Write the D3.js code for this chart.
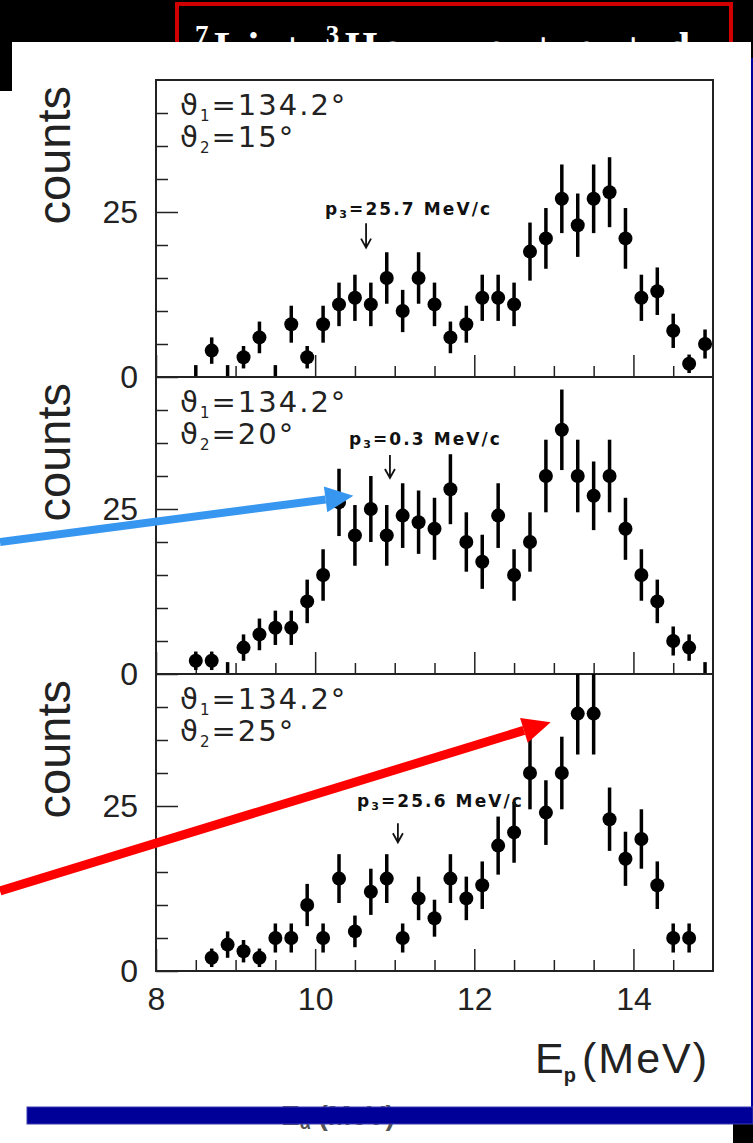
<!DOCTYPE html>
<html>
<head>
<meta charset="utf-8">
<script src="https://cdn.jsdelivr.net/npm/d3@7"></script>
<style>
  html, body { margin: 0; padding: 0; background: #fff; }
  svg { display: block; }
  .frame { fill: none; stroke: #222; stroke-width: 2; }
  .axis path { display: none; }
  .axis line { stroke: #222; stroke-width: 1.5; }
  .axis text { font-family: "Liberation Sans", Arial, sans-serif; font-size: 32px; fill: #222; }
  .ylab { font-family: "Liberation Sans", Arial, sans-serif; font-size: 47px; fill: #222; }
  .theta { font-family: "DejaVu Sans", sans-serif; font-size: 29px; fill: #222; letter-spacing: 2px; }
  .mom { font-family: "DejaVu Sans", sans-serif; font-size: 17px; font-weight: bold; fill: #111; }
</style>
</head>
<body>
<div id="chart"></div>
<script>
// proton energy bins (MeV), 0.2 MeV wide
var ENERGY = [8.5, 8.7, 8.9, 9.1, 9.3, 9.5, 9.7, 9.9, 10.1, 10.3, 10.5, 10.7, 10.9, 11.1, 11.3, 11.5,
              11.7, 11.9, 12.1, 12.3, 12.5, 12.7, 12.9, 13.1, 13.3, 13.5, 13.7, 13.9, 14.1, 14.3, 14.5, 14.7, 14.9];

// theta2 = 15 deg
var COUNTS_15 = [0, 4, 0, 3, 6, 0, 8, 3, 8, 11, 12, 11, 15, 10, 15, 11, 6, 8, 12, 12, 11, 19, 21, 27, 23, 27, 28, 21, 12, 13, 7, 2, 5];
var ERR_15 = [1.8, 2, 1.8, 1.7, 2.4, 1.8, 2.8, 1.7, 2.8, 3.3, 3.5, 3.3, 3.9, 3.2, 3.9, 3.3, 2.4, 2.8, 3.5, 3.5, 3.3, 4.4, 4.6, 5.2, 4.8, 5.2, 5.3, 4.6, 3.5, 3.6, 2.6, 1.4, 2.2];

// theta2 = 20 deg
var COUNTS_20 = [2, 2, 0, 4, 6, 7, 7, 11, 15, 26, 21, 25, 21, 24, 23, 22, 28, 20, 17, 24, 15, 20, 30, 37, 30, 27, 30, 22, 15, 11, 5, 4, 0];
var ERR_20 = [1.4, 1.4, 1.8, 2, 2.4, 2.6, 2.6, 3.3, 3.9, 5.1, 4.6, 5, 4.6, 4.9, 4.8, 4.7, 5.3, 4.5, 4.1, 4.9, 3.9, 4.5, 5.5, 6.1, 5.5, 5.2, 5.5, 4.7, 3.9, 3.3, 2.2, 2, 1.8];

// theta2 = 25 deg
var COUNTS_25 = [null, 2, 4, 3, 2, 5, 5, 10, 5, 14, 6, 12, 14, 5, 11, 8, 14, 11, 13, 19, 21, 30, 24, 30, 39, 39, 23, 17, 20, 13, 5, 5, null];
var ERR_25 = [null, 1.4, 2, 1.7, 1.4, 2.2, 2.2, 3.2, 2.2, 3.7, 2.4, 3.5, 3.7, 2.2, 3.3, 2.8, 3.7, 3.3, 3.6, 4.4, 4.6, 5.5, 4.9, 5.5, 6.2, 6.2, 4.8, 4.1, 4.5, 3.6, 2.2, 2.2, null];

var THETA1 = ["134.2°", "134.2°", "134.2°"];
var THETA2 = ["15°", "20°", "25°"];

// spectator momentum marks: label, energy of arrow, label / arrow heights in counts
var P3_LABEL = ["25.7", "0.3", "25.6"];
var P3_ENERGY = [10.64, 10.94, 11.04];
var P3_TEXT_Y = [24.5, 34.7, 24.8];
var P3_ARROW_TOP = [23.3, 33.2, 22.4];
var P3_ARROW_BOT = [19.6, 29.7, 19.5];

var X_MAJOR = [8, 10, 12, 14];
var X_MINOR = [8.5, 9, 9.5, 10.5, 11, 11.5, 12.5, 13, 13.5, 14.5];
var Y_MAJOR = [0, 25];
var Y_MINOR = [5, 10, 15, 20, 30, 35, 40];

var W = 753, H = 1143;
var PLOT = { left: 156, right: 713, top: 80, panelH: 297 };

var svg = d3.select("#chart").append("svg")
    .attr("width", W)
    .attr("height", H);

// ---- slide background bits ----
svg.append("rect").attr("x", 0).attr("y", 0).attr("width", W).attr("height", 42).attr("fill", "#000");
svg.append("rect").attr("x", 0).attr("y", 0).attr("width", 12).attr("height", 91).attr("fill", "#000");
svg.append("rect").attr("x", 751).attr("y", 42).attr("width", 2).attr("height", 16).attr("fill", "#000");
svg.append("rect").attr("x", 751).attr("y", 58).attr("width", 2).attr("height", 1050).attr("fill", "#00009a");
svg.append("rect").attr("x", 177).attr("y", 4).attr("width", 554).attr("height", 70)
    .attr("fill", "none").attr("stroke", "#d00000").attr("stroke-width", 4);

var title = svg.append("text")
    .attr("x", 195).attr("y", 61)
    .attr("fill", "#fff")
    .attr("textLength", 495)
    .attr("lengthAdjust", "spacing")
    .style("font-family", "'Liberation Serif', 'Times New Roman', serif")
    .style("font-weight", "bold")
    .style("font-size", "42px");
title.append("tspan").attr("font-size", "27px").attr("dy", -17).text("7");
title.append("tspan").attr("dy", 17).text("Li + ");
title.append("tspan").attr("font-size", "27px").attr("dy", -17).text("3");
title.append("tspan").attr("dy", 17).text("He \u2192 \u03b1 + \u03b1 + d");

svg.append("rect").attr("x", 12).attr("y", 42).attr("width", 739).attr("height", 1065).attr("fill", "#fff");

// ghost label peeking out under the bottom bar
var ghost = svg.append("text")
    .attr("x", 281).attr("y", 1125)
    .attr("fill", "#555")
    .style("font-family", "'Liberation Sans', Arial, sans-serif")
    .style("font-weight", "bold")
    .style("font-size", "28px");
ghost.append("tspan").text("E");
ghost.append("tspan").attr("font-size", "18px").attr("dy", 4).text("\u03b1");
ghost.append("tspan").attr("dy", -4).text(" (MeV)");

svg.append("rect").attr("x", 733).attr("y", 1118).attr("width", 20).attr("height", 25).attr("fill", "#000");
svg.append("rect").attr("x", 27).attr("y", 1107).attr("width", 726).attr("height", 17)
    .attr("fill", "#000099").attr("stroke", "#3a3ab0").attr("stroke-width", 1);

// ---- panels ----
var x = d3.scaleLinear().domain([8, 15]).range([PLOT.left, PLOT.right]);

var panels = [
    { counts: COUNTS_15, err: ERR_15 },
    { counts: COUNTS_20, err: ERR_20 },
    { counts: COUNTS_25, err: ERR_25 }
];

var yScales = [];

panels.forEach(function (p, i) {
    var top = PLOT.top + i * PLOT.panelH,
        bottom = top + PLOT.panelH;

    var y = d3.scaleLinear().domain([0, 45]).range([bottom, top]);
    yScales.push(y);

    var g = svg.append("g").attr("class", "panel");

    g.append("clipPath").attr("id", "clip" + i)
      .append("rect")
        .attr("x", PLOT.left).attr("y", top)
        .attr("width", PLOT.right - PLOT.left).attr("height", PLOT.panelH);

    // x ticks, pointing inward
    g.append("g").attr("class", "axis")
        .attr("transform", "translate(0," + bottom + ")")
        .call(d3.axisBottom(x).tickValues(X_MINOR).tickSize(-11).tickFormat(""));
    g.append("g").attr("class", "axis")
        .attr("transform", "translate(0," + bottom + ")")
        .call(d3.axisBottom(x).tickValues(X_MAJOR).tickSize(-22).tickFormat(""));

    // y ticks
    g.append("g").attr("class", "axis")
        .attr("transform", "translate(" + PLOT.left + ",0)")
        .call(d3.axisLeft(y).tickValues(Y_MINOR).tickSize(-12).tickFormat(""));
    g.append("g").attr("class", "axis")
        .attr("transform", "translate(" + PLOT.left + ",0)")
        .call(d3.axisLeft(y).tickValues(Y_MAJOR).tickSize(-22).tickPadding(18).tickFormat(d3.format("d")));

    g.append("rect").attr("class", "frame")
        .attr("x", PLOT.left).attr("y", top)
        .attr("width", PLOT.right - PLOT.left).attr("height", PLOT.panelH);

    g.append("text").attr("class", "ylab")
        .attr("transform", "translate(70," + (top + 6) + ") rotate(-90)")
        .attr("text-anchor", "end")
        .text("counts");

    // angle labels
    var t1 = g.append("text").attr("class", "theta").attr("x", 180).attr("y", top + 35);
    t1.append("tspan").text("\u03d1");
    t1.append("tspan").attr("font-size", "15px").attr("dy", 6).text("1");
    t1.append("tspan").attr("dy", -6).text("=" + THETA1[i]);
    var t2 = g.append("text").attr("class", "theta").attr("x", 180).attr("y", top + 67);
    t2.append("tspan").text("\u03d1");
    t2.append("tspan").attr("font-size", "15px").attr("dy", 6).text("2");
    t2.append("tspan").attr("dy", -6).text("=" + THETA2[i]);

    // data
    var pts = ENERGY.map(function (e, k) {
        return { e: e, c: p.counts[k], s: p.err[k] };
    }).filter(function (d) { return d.c !== null; });

    var dg = g.append("g").attr("clip-path", "url(#clip" + i + ")");

    dg.selectAll(".err")
        .data(pts)
        .enter().append("line")
        .attr("class", "err")
        .attr("x1", function (d) { return x(d.e); })
        .attr("x2", function (d) { return x(d.e); })
        .attr("y1", function (d) { return y(Math.max(0, d.c - d.s)); })
        .attr("y2", function (d) { return y(d.c + d.s); })
        .attr("stroke", "#000")
        .attr("stroke-width", 3.5);

    dg.selectAll(".dot")
        .data(pts.filter(function (d) { return d.c > 0; }))
        .enter().append("circle")
        .attr("class", "dot")
        .attr("cx", function (d) { return x(d.e); })
        .attr("cy", function (d) { return y(d.c); })
        .attr("r", 7)
        .attr("fill", "#000");

    // p3 arrow + label
    var ax = x(P3_ENERGY[i]);
    var mt = g.append("text").attr("class", "mom")
        .attr("x", ax - 41).attr("y", y(P3_TEXT_Y[i]))
        .attr("textLength", i === 1 ? 151 : 165)
        .attr("lengthAdjust", "spacing");
    mt.append("tspan").text("p");
    mt.append("tspan").attr("font-size", "11px").attr("dy", 3).text("3");
    mt.append("tspan").attr("dy", -3).text("=" + P3_LABEL[i] + " MeV/c");

    var ya = y(P3_ARROW_TOP[i]), yb = y(P3_ARROW_BOT[i]);
    g.append("path")
        .attr("d", "M" + ax + "," + ya + "V" + yb + "M" + (ax - 5) + "," + (yb - 9) + "L" + ax + "," + yb + "L" + (ax + 5) + "," + (yb - 9))
        .attr("fill", "none")
        .attr("stroke", "#111")
        .attr("stroke-width", 1.8);

    if (i === panels.length - 1) {
        g.append("g").attr("class", "axis")
            .attr("transform", "translate(0," + bottom + ")")
            .call(d3.axisBottom(x).tickValues(X_MAJOR).tickSize(0).tickPadding(16).tickFormat(d3.format("d")));
    }
});

// E_p axis title
var xt = svg.append("text")
    .attr("x", 535).attr("y", 1073)
    .attr("fill", "#222")
    .style("font-family", "'Liberation Sans', Arial, sans-serif")
    .style("font-size", "43px");
xt.append("tspan").text("E");
xt.append("tspan").attr("font-size", "20px").attr("font-weight", "bold").attr("dy", 9).text("p");
xt.append("tspan").attr("dy", -9).attr("x", 582).attr("letter-spacing", "2px").text("(MeV)");

// slide arrows pointing into the spectra (tip in data units, tail at slide edge)
var ARROW_TIP_E = [10.48, 12.96];
var ARROW_TIP_C = [27.0, 37.7];
var ARROW_PANEL = [1, 2];
var ARROW_TAIL_Y = [542, 891];
var ARROW_COLOR = ["#3797f0", "#ff0000"];

ARROW_TIP_E.forEach(function (e, i) {
    var tx = x(e), ty = yScales[ARROW_PANEL[i]](ARROW_TIP_C[i]);
    var sx = 0, sy = ARROW_TAIL_Y[i];
    var ang = Math.atan2(ty - sy, tx - sx);
    var headL = 28, headW = 13;
    var bx = tx - headL * Math.cos(ang), by = ty - headL * Math.sin(ang);
    var nx = -Math.sin(ang), ny = Math.cos(ang);
    svg.append("line")
        .attr("x1", sx).attr("y1", sy).attr("x2", bx).attr("y2", by)
        .attr("stroke", ARROW_COLOR[i]).attr("stroke-width", i === 0 ? 8 : 9);
    svg.append("path")
        .attr("d", "M" + tx + "," + ty + "L" + (bx + nx * headW) + "," + (by + ny * headW) + "L" + (bx - nx * headW) + "," + (by - ny * headW) + "Z")
        .attr("fill", ARROW_COLOR[i]);
});
</script>
</body>
</html>
